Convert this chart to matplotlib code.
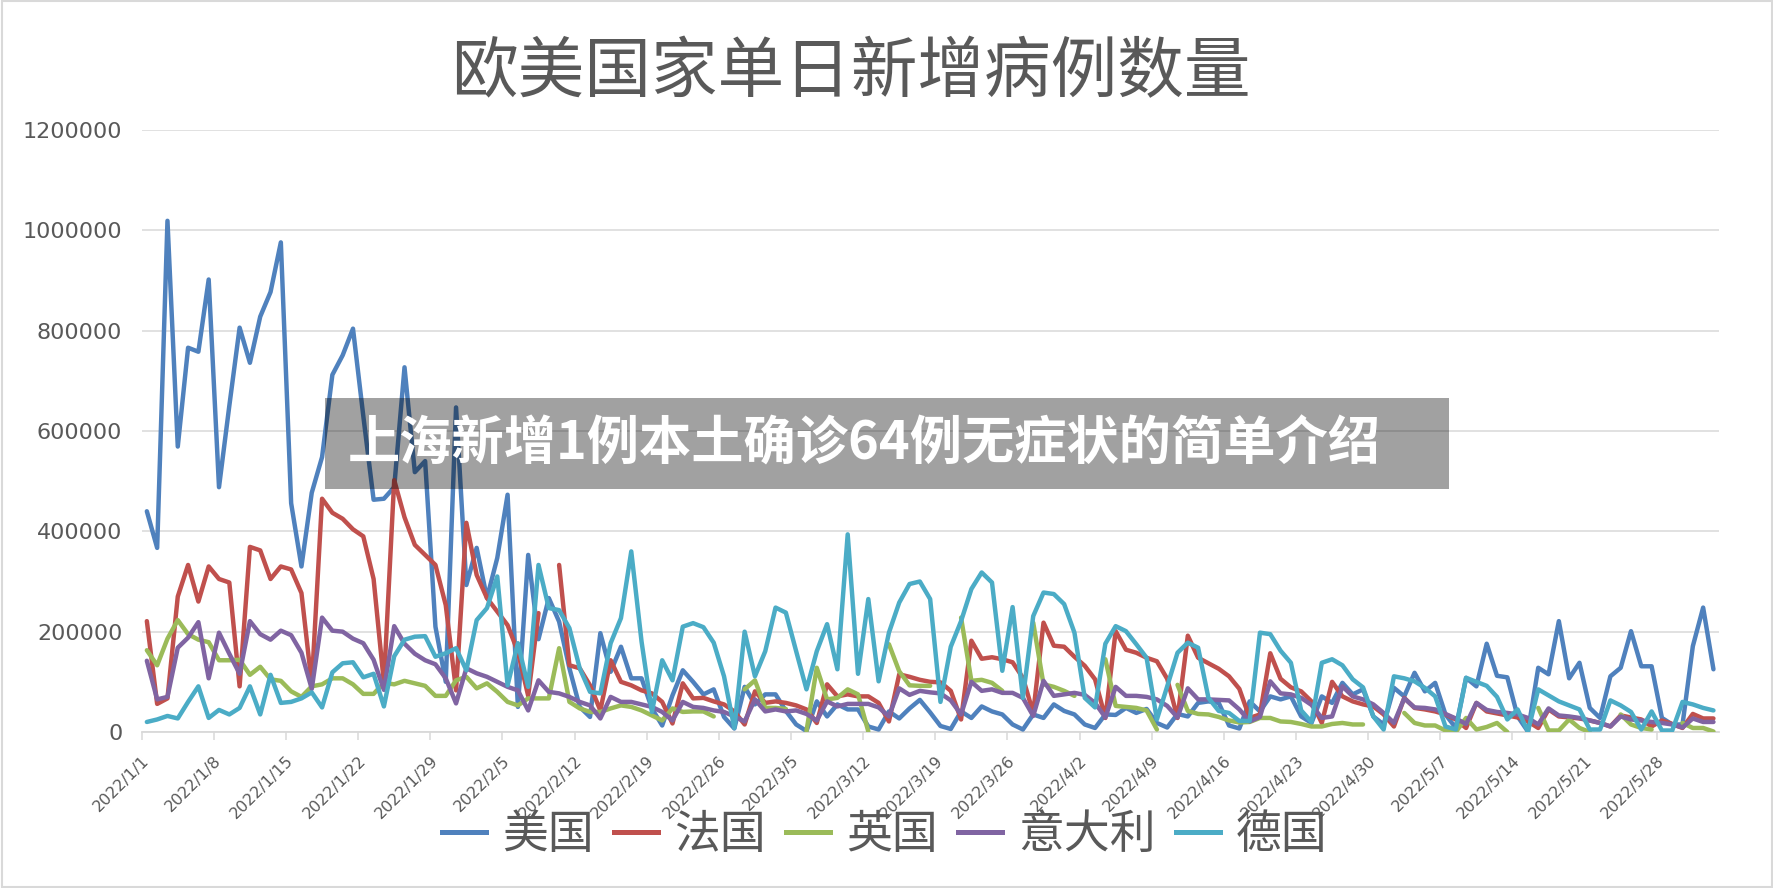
import numpy as np
import pandas as pd
import matplotlib
matplotlib.use("Agg")
import matplotlib.pyplot as plt
from matplotlib.patches import Rectangle
from matplotlib.lines import Line2D

plt.rcParams['font.family'] = ['Noto Sans CJK SC', 'DejaVu Sans']

title = "欧美国家单日新增病例数量"
banner = "上海新增1例本土确诊64例无症状的简单介绍"
series_names = ["美国", "法国", "英国", "意大利", "德国"]
colors = ["#4F81BD", "#C0504D", "#9BBB59", "#8064A2", "#4BACC6"]
start_date = "2022-01-01"
n_days = 153
nan = None

# daily new cases, in thousands
us = [440, 367, 1019, 569, 766, 758, 902, 488, 650, 806,
      736, 828, 877, 976, 456, 330, 477, 548, 712, 751,
      804, 630, 463, 465, 488, 727, 518, 540, 210, 100,
      647, 293, 367, 267, 347, 473, 50, 353, 185, 267,
      220, 127, 50, 30, 197, 120, 170, 107, 107, 47,
      13, 73, 123, 100, 75, 85, 30, 7, 90, 55,
      75, 75, 42, 15, 2, 61, 31, 55, 45, 45,
      11, 5, 41, 27, 47, 64, 39, 12, 6, 41,
      28, 51, 41, 35, 15, 5, 35, 28, 55, 42,
      35, 15, 8, 35, 34, 48, 38, 46, 18, 9,
      36, 31, 58, 61, 58, 13, 7, 61, 41, 71,
      65, 71, 31, 18, 71, 58, 98, 75, 85, 31,
      15, 88, 71, 118, 81, 98, 35, 8, 108, 91,
      176, 112, 109, 31, 1, 128, 115, 221, 107, 138,
      48, 28, 111, 128, 201, 131, 131, 28, 15, 15,
      171, 248, 125]
france = [221, 56, 67, 270, 333, 260, 330, 305, 298, 91,
          369, 362, 305, 330, 324, 277, 95, 465, 437, 425,
          404, 390, 305, 98, 502, 428, 373, 353, 333, 253,
          83, 417, 313, 267, 240, 213, 160, 72, 237, nan,
          333, 133, 127, 93, 43, 143, 100, 93, 83, 77,
          60, 17, 97, 67, 68, 61, 55, 41, 15, 81,
          58, 61, 58, 53, 45, 18, 95, 71, 75, 71,
          71, 58, 21, 115, 110, 104, 100, 99, 82, 25,
          182, 146, 149, 145, 139, 108, 38, 218, 172, 170,
          150, 132, 105, 28, 201, 164, 158, 148, 141, 106,
          28, 192, 148, 137, 126, 111, 86, 28, 35, 157,
          106, 89, 81, 61, 18, 100, 71, 61, 55, 51,
          35, 11, 68, 48, 45, 41, 35, 25, 8, 58,
          41, 37, 33, 29, 21, 8, 45, 31, 29, 27,
          23, 18, 11, 33, 29, 25, 11, 23, 16, 8,
          36, 27, 27]
uk = [163, 133, 186, 223, 195, 184, 179, 143, 143, 144,
      114, 130, 105, 102, 81, 70, 91, 95, 107, 107,
      95, 76, 76, 98, 95, 102, 97, 92, 72, 72,
      103, 110, 87, 97, 80, 60, 53, 67, 67, 67,
      167, 60, 47, 40, 40, 47, 53, 50, 43, 33,
      23, 47, 40, 41, 41, 31, nan, nan, 85, 103,
      48, 48, 46, nan, 2, 128, 65, 68, 85, 75,
      1, nan, 175, 121, 93, 92, 92, nan, nan, 228,
      102, 104, 98, 82, nan, nan, 218, 95, 90, 82,
      72, nan, nan, 145, 52, 50, 48, 43, 5, nan,
      94, 42, 36, 35, 30, 23, 19, 20, 28, 28,
      21, 20, 16, 11, 11, 16, 18, 15, 15, nan,
      nan, nan, 38, 18, 13, 13, 3, 0, 28, 5,
      10, 18, 0, nan, nan, 48, 3, 3, 25, 8,
      0, nan, nan, 35, 15, 8, 5, nan, nan, 18,
      8, 8, 1]
italy = [142, 65, 70, 168, 188, 219, 107, 198, 156, 116,
         221, 195, 184, 202, 193, 158, 86, 228, 202, 200,
         186, 177, 144, 84, 211, 176, 156, 143, 135, 107,
         57, 127, 117, 110, 100, 90, 83, 43, 103, 80,
         77, 70, 60, 53, 27, 70, 60, 60, 55, 50,
         40, 23, 60, 50, 48, 43, 40, 31, 21, 65,
         41, 45, 41, 43, 36, 23, 61, 51, 56, 56,
         56, 49, 31, 87, 74, 82, 79, 77, 63, 35,
         100, 82, 85, 78, 78, 68, 32, 102, 72, 75,
         78, 74, 58, 29, 90, 72, 72, 70, 65, 52,
         29, 87, 65, 65, 64, 63, 45, 21, 30, 101,
         77, 75, 68, 54, 28, 31, 91, 71, 65, 55,
         38, 18, 67, 49, 48, 45, 36, 27, 16, 58,
         44, 40, 38, 35, 28, 15, 47, 33, 31, 28,
         23, 18, 11, 31, 25, 23, 20, 18, 15, 9,
         27, 20, 20]
germany = [20, 25, 32, 27, 60, 91, 28, 44, 35, 48,
           91, 35, 114, 58, 60, 67, 79, 49, 119, 137,
           139, 109, 116, 51, 151, 184, 190, 191, 150, 157,
           167, 123, 223, 247, 310, 93, 177, 90, 333, 247,
           243, 207, 127, 80, 77, 177, 227, 360, 180, 40,
           143, 103, 210, 217, 209, 178, 111, 8, 200, 111,
           161, 248, 238, 161, 85, 161, 215, 125, 394, 116,
           265, 101, 198, 258, 295, 300, 265, 60, 170, 221,
           285, 318, 298, 122, 249, 68, 231, 278, 275, 255,
           198, 68, 49, 176, 211, 201, 175, 148, 25, 91,
           158, 178, 168, 68, 42, 38, 22, 22, 198, 195,
           162, 138, 43, 20, 138, 145, 133, 105, 89, 31,
           5, 111, 107, 101, 88, 71, 11, 5, 108, 100,
           92, 70, 25, 45, 1, 85, 73, 61, 53, 45,
           5, 5, 63, 53, 40, 5, 41, 3, 3, 60,
           55, 48, 43]
y_ticks = [0, 200000, 400000, 600000, 800000, 1000000, 1200000]

all_series = [us, france, uk, italy, germany]

W, H = 1774, 888
fig = plt.figure(figsize=(W / 100, H / 100), dpi=100)
x0, x1 = 141.7, 1718.6
y0, y1 = 732, 130
ax = fig.add_axes([x0 / W, 1 - y0 / H, (x1 - x0) / W, (y0 - y1) / H])

dates = pd.date_range(start_date, periods=n_days, freq="D")
x = np.arange(n_days)
for vals, c, name in zip(all_series, colors, series_names):
    v = np.array([np.nan if a is None else a for a in vals], dtype=float) * 1000
    ax.plot(x, v, color=c, lw=3.2, solid_joinstyle="round",
            solid_capstyle="round", label=name, zorder=3)

ax.set_xlim(-0.5, n_days - 0.5)
ax.set_ylim(0, 1200000)
ax.set_yticks(y_ticks)
ax.set_yticklabels([str(t) for t in y_ticks], family="DejaVu Sans",
                   fontsize=16, color="#595959")
ax.tick_params(axis="y", length=0, pad=14)
ax.grid(axis="y", color="#d9d9d9", lw=1.1, zorder=0)
ax.set_axisbelow(True)

tick_pos = np.arange(0, n_days, 7)
ax.set_xticks(tick_pos - 0.5)
ax.set_xticklabels([f"{d.year}/{d.month}/{d.day}" for d in dates[tick_pos]],
                   rotation=45, ha="right", va="top", rotation_mode="anchor",
                   family="DejaVu Sans", fontsize=11.5, color="#595959")
ax.tick_params(axis="x", length=6, width=1.1, color="#d9d9d9", pad=9)
for s in ["top", "right", "left"]:
    ax.spines[s].set_visible(False)
ax.spines["bottom"].set_color("#d9d9d9")
ax.spines["bottom"].set_linewidth(1.3)

fig.text(851 / W, 1 - 73 / H, title, ha="center", va="center",
         fontsize=48, color="#595959")

handles = [Line2D([], [], color=c, lw=3.6) for c in colors]
leg = fig.legend(handles, series_names, loc="center", ncol=5,
                 bbox_to_anchor=(885 / W, 1 - 835 / H), frameon=False,
                 fontsize=33, handlelength=0.95, handletextpad=0.35,
                 columnspacing=0.45)
for t in leg.get_texts():
    t.set_color("#595959")

# chart border
fig.add_artist(Rectangle((0.001, 0.001), 0.998, 0.998, transform=fig.transFigure,
                         fill=False, edgecolor="#d9d9d9", lw=1.5, zorder=1))

# overlay banner
bx0, bx1, by0, by1 = 324.7, 1449.3, 398.2, 488.8
fig.add_artist(Rectangle((bx0 / W, 1 - by1 / H), (bx1 - bx0) / W, (by1 - by0) / H,
                         transform=fig.transFigure, facecolor="black",
                         alpha=0.37, edgecolor="none", zorder=5))
fig.text(348 / W, 1 - 444 / H, banner, ha="left", va="center", color="white",
         fontsize=37.6, fontweight="bold", zorder=6)

fig.savefig("out.png", dpi=100)
